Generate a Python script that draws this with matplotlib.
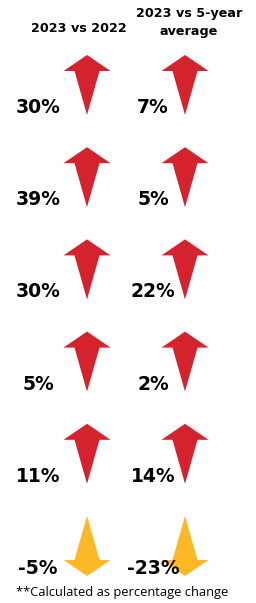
import matplotlib

matplotlib.use("Agg")
import matplotlib.pyplot as plt
from matplotlib.patches import Polygon

# Data
headers = ["2023 vs 2022", "2023 vs 5-year\naverage"]
vs_2022 = [30, 39, 30, 5, 11, -5]
vs_5yr = [7, 5, 22, 2, 14, -23]
footnote = "**Calculated as percentage change"

UP_COLOR = "#d4232c"
DOWN_COLOR = "#fdb825"

W, H = 256, 603
fig = plt.figure(figsize=(W / 100, H / 100), dpi=100)
ax = fig.add_axes([0, 0, 1, 1])
ax.set_xlim(0, W)
ax.set_ylim(H, 0)
ax.axis("off")

ARROW_X = [87, 185]
LABEL_X = [38, 153]
ROW_TOP = 55
ROW_STEP = 92.2


def arrow_points(cx, top, up=True):
    head_hw, shaft_hw, head_h, total = 23.5, 12.5, 16, 60
    if up:
        return [(cx, top), (cx + head_hw, top + head_h), (cx + shaft_hw, top + head_h),
                (cx, top + total), (cx - shaft_hw, top + head_h), (cx - head_hw, top + head_h)]
    base = top + total - head_h
    return [(cx, top), (cx + shaft_hw, base), (cx + head_hw, base), (cx, top + total),
            (cx - head_hw, base), (cx - shaft_hw, base)]


for col, values in enumerate([vs_2022, vs_5yr]):
    for i, v in enumerate(values):
        top = ROW_TOP + ROW_STEP * i
        up = v >= 0
        ax.add_patch(Polygon(arrow_points(ARROW_X[col], top, up), closed=True,
                             facecolor=UP_COLOR if up else DOWN_COLOR, edgecolor="none"))
        ax.text(LABEL_X[col], top + 58, f"{v}%", ha="center", va="baseline",
                fontsize=13.5, fontweight="bold", family="DejaVu Sans", color="black",
                zorder=3)

ax.text(79, 32, headers[0], ha="center", va="baseline", fontsize=9.2,
        fontweight="bold", family="DejaVu Sans")
line1, line2 = headers[1].split("\n")
ax.text(189, 17, line1, ha="center", va="baseline", fontsize=9.2,
        fontweight="bold", family="DejaVu Sans")
ax.text(189, 35, line2, ha="center", va="baseline", fontsize=9.2,
        fontweight="bold", family="DejaVu Sans")

ax.text(16, 596, footnote, ha="left", va="baseline", fontsize=9.3,
        family="Open Sans")

fig.savefig("out.png", dpi=100)
